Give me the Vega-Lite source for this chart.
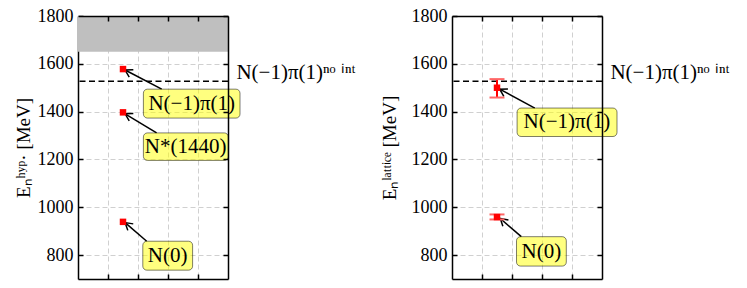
{
  "$schema": "https://vega.github.io/schema/vega-lite/v6.json",
  "padding": {"left": 14, "top": 7, "right": 5, "bottom": 5},
  "background": "white",
  "config": {
    "view": {"stroke": null},
    "font": "Liberation Serif, Times New Roman, serif",
    "text": {"font": "Liberation Serif, Times New Roman, serif"},
    "axis": {
      "domainColor": "black", "domainWidth": 1.5,
      "tickColor": "black", "tickWidth": 1.5, "tickSize": -5,
      "labelFont": "Liberation Serif, Times New Roman, serif", "labelFontSize": 18, "labelColor": "black", "format": "d",
      "titleFont": "Liberation Serif, Times New Roman, serif", "titleFontSize": 19, "titleFontWeight": "normal", "titleColor": "black",
      "gridColor": "#d0d0d0", "gridDash": [5, 3], "gridWidth": 1
    }
  },
  "datasets": {
    "band": [{"x1": 0, "x2": 5, "y1": 1650, "y2": 1800}],
    "thr": [{"E": 1527, "lx": 5.28, "label": "N(−1)π(1)ⁿᵒ ⁱⁿᵗ"}],
    "hyp": [
      {"state": "N(0)", "x": 1.5, "E": 939},
      {"state": "N*(1440)", "x": 1.5, "E": 1397},
      {"state": "N(−1)π(1)", "x": 1.5, "E": 1578}
    ],
    "lat": [
      {"state": "N(0)", "x": 1.5, "E": 959, "lo": 949, "hi": 970},
      {"state": "N(−1)π(1)", "x": 1.5, "E": 1500, "lo": 1459, "hi": 1536}
    ],
    "annHyp": [
      {"label": "N(−1)π(1)", "bx1": 2.18, "bx2": 5.4, "by1": 1373, "by2": 1494, "tx": 3.79, "ty": 1434, "ax": 2.79, "ay": 1494, "hx": 1.57, "hy": 1574},
      {"label": "N*(1440)", "bx1": 2.18, "bx2": 5.01, "by1": 1196, "by2": 1311, "tx": 3.59, "ty": 1253, "ax": 2.62, "ay": 1311, "hx": 1.57, "hy": 1391},
      {"label": "N(0)", "bx1": 2.16, "bx2": 3.82, "by1": 737, "by2": 858, "tx": 2.99, "ty": 798, "ax": 2.29, "ay": 858, "hx": 1.57, "hy": 936}
    ],
    "annLat": [
      {"label": "N(−1)π(1)", "bx1": 2.17, "bx2": 5.5, "by1": 1296, "by2": 1415, "tx": 3.83, "ty": 1356, "ax": 2.76, "ay": 1415, "hx": 1.59, "hy": 1494},
      {"label": "N(0)", "bx1": 2.15, "bx2": 3.81, "by1": 754, "by2": 877, "tx": 2.98, "ty": 815, "ax": 2.31, "ay": 877, "hx": 1.61, "hy": 953}
    ]
  },
  "spacing": 224,
  "bounds": "flush",
  "hconcat": [
    {
      "width": 150, "height": 263,
      "resolve": {"axis": {"x": "independent", "y": "independent"}},
      "layer": [
        {
          "data": {"name": "band"},
          "mark": {"type": "rect", "color": "#bfbfbf"},
          "encoding": {
            "x": {"field": "x1", "type": "quantitative", "scale": {"domain": [0, 5], "nice": false, "zero": false}, "axis": null},
            "x2": {"field": "x2"},
            "y": {"field": "y1", "type": "quantitative", "scale": {"domain": [700, 1800], "nice": false, "zero": false}, "axis": null},
            "y2": {"field": "y2"}
          }
        },
        {
          "data": {"name": "thr"},
          "mark": {"type": "rule", "color": "black", "strokeWidth": 1.5, "strokeDash": [6, 3.5]},
          "encoding": {
            "y": {"field": "E", "type": "quantitative", "scale": {"domain": [700, 1800], "nice": false, "zero": false}, "axis": null}
          }
        },
        {
          "data": {"name": "thr"},
          "mark": {"type": "text", "align": "left", "baseline": "alphabetic", "dy": -2, "fontSize": 21, "color": "black"},
          "encoding": {
            "x": {"field": "lx", "type": "quantitative", "scale": {"domain": [0, 5], "nice": false, "zero": false}, "axis": null},
            "y": {"field": "E", "type": "quantitative", "scale": {"domain": [700, 1800], "nice": false, "zero": false}, "axis": null},
            "text": {"field": "label"}
          }
        },
        {
          "data": {"name": "annHyp"},
          "mark": {"type": "rule", "color": "black", "strokeWidth": 1.5},
          "encoding": {
            "x": {"field": "ax", "type": "quantitative", "scale": {"domain": [0, 5], "nice": false, "zero": false}, "axis": null},
            "x2": {"field": "hx"},
            "y": {"field": "ay", "type": "quantitative", "scale": {"domain": [700, 1800], "nice": false, "zero": false}, "axis": null},
            "y2": {"field": "hy"}
          }
        },
        {
          "data": {"name": "annHyp"},
          "transform": [{"filter": "datum.label != 'N(0)'"}],
          "mark": {"type": "point", "shape": "M -1 -0.6 L 0 0 L -1 0.6", "filled": false, "stroke": "black", "strokeWidth": 1.5, "size": 200, "angle": 209, "opacity": 1},
          "encoding": {
            "x": {"field": "hx", "type": "quantitative", "scale": {"domain": [0, 5], "nice": false, "zero": false}, "axis": null},
            "y": {"field": "hy", "type": "quantitative", "scale": {"domain": [700, 1800], "nice": false, "zero": false}, "axis": null}
          }
        },
        {
          "data": {"name": "annHyp"},
          "transform": [{"filter": "datum.label == 'N(0)'"}],
          "mark": {"type": "point", "shape": "M -1 -0.6 L 0 0 L -1 0.6", "filled": false, "stroke": "black", "strokeWidth": 1.5, "size": 200, "angle": 220, "opacity": 1},
          "encoding": {
            "x": {"field": "hx", "type": "quantitative", "scale": {"domain": [0, 5], "nice": false, "zero": false}, "axis": null},
            "y": {"field": "hy", "type": "quantitative", "scale": {"domain": [700, 1800], "nice": false, "zero": false}, "axis": null}
          }
        },
        {
          "data": {"name": "annHyp"},
          "mark": {"type": "rect", "fill": "yellow", "fillOpacity": 0.5, "stroke": "black", "strokeOpacity": 0.5, "strokeWidth": 1, "cornerRadius": 4},
          "encoding": {
            "x": {"field": "bx1", "type": "quantitative", "scale": {"domain": [0, 5], "nice": false, "zero": false},
                  "axis": {"orient": "top", "values": [1, 2, 3, 4], "labels": false, "grid": false, "title": null, "zindex": 1}},
            "x2": {"field": "bx2"},
            "y": {"field": "by1", "type": "quantitative", "scale": {"domain": [700, 1800], "nice": false, "zero": false},
                  "axis": {"orient": "right", "values": [800, 1000, 1200, 1400, 1600, 1800], "labels": false, "grid": false, "title": null, "zindex": 1}},
            "y2": {"field": "by2"}
          }
        },
        {
          "data": {"name": "annHyp"},
          "mark": {"type": "text", "align": "center", "baseline": "middle", "fontSize": 21, "color": "black"},
          "encoding": {
            "x": {"field": "tx", "type": "quantitative", "scale": {"domain": [0, 5], "nice": false, "zero": false}, "axis": null},
            "y": {"field": "ty", "type": "quantitative", "scale": {"domain": [700, 1800], "nice": false, "zero": false}, "axis": null},
            "text": {"field": "label"}
          }
        },
        {
          "data": {"name": "hyp"},
          "mark": {"type": "point", "shape": "square", "filled": true, "color": "red", "size": 42, "opacity": 1},
          "encoding": {
            "x": {"field": "x", "type": "quantitative", "scale": {"domain": [0, 5], "nice": false, "zero": false},
                  "axis": {"orient": "bottom", "values": [1, 2, 3, 4], "labels": false, "grid": true, "title": null, "zindex": 0}},
            "y": {"field": "E", "type": "quantitative", "scale": {"domain": [700, 1800], "nice": false, "zero": false},
                  "axis": {"orient": "left", "values": [800, 1000, 1200, 1400, 1600, 1800], "grid": true, "labelPadding": 10, "titlePadding": 4, "title": "Eₙʰʸᵖ· [MeV]", "zindex": 0}}
          }
        }
      ]
    },
    {
      "width": 150, "height": 263,
      "resolve": {"axis": {"x": "independent", "y": "independent"}},
      "layer": [
        {
          "data": {"name": "thr"},
          "mark": {"type": "rule", "color": "black", "strokeWidth": 1.5, "strokeDash": [6, 3.5]},
          "encoding": {
            "y": {"field": "E", "type": "quantitative", "scale": {"domain": [700, 1800], "nice": false, "zero": false}, "axis": null}
          }
        },
        {
          "data": {"name": "thr"},
          "mark": {"type": "text", "align": "left", "baseline": "alphabetic", "dy": -2, "fontSize": 21, "color": "black"},
          "encoding": {
            "x": {"field": "lx", "type": "quantitative", "scale": {"domain": [0, 5], "nice": false, "zero": false}, "axis": null},
            "y": {"field": "E", "type": "quantitative", "scale": {"domain": [700, 1800], "nice": false, "zero": false}, "axis": null},
            "text": {"field": "label"}
          }
        },
        {
          "data": {"name": "annLat"},
          "mark": {"type": "rule", "color": "black", "strokeWidth": 1.5},
          "encoding": {
            "x": {"field": "ax", "type": "quantitative", "scale": {"domain": [0, 5], "nice": false, "zero": false}, "axis": null},
            "x2": {"field": "hx"},
            "y": {"field": "ay", "type": "quantitative", "scale": {"domain": [700, 1800], "nice": false, "zero": false}, "axis": null},
            "y2": {"field": "hy"}
          }
        },
        {
          "data": {"name": "annLat"},
          "transform": [{"filter": "datum.label != 'N(0)'"}],
          "mark": {"type": "point", "shape": "M -1 -0.6 L 0 0 L -1 0.6", "filled": false, "stroke": "black", "strokeWidth": 1.5, "size": 200, "angle": 209, "opacity": 1},
          "encoding": {
            "x": {"field": "hx", "type": "quantitative", "scale": {"domain": [0, 5], "nice": false, "zero": false}, "axis": null},
            "y": {"field": "hy", "type": "quantitative", "scale": {"domain": [700, 1800], "nice": false, "zero": false}, "axis": null}
          }
        },
        {
          "data": {"name": "annLat"},
          "transform": [{"filter": "datum.label == 'N(0)'"}],
          "mark": {"type": "point", "shape": "M -1 -0.6 L 0 0 L -1 0.6", "filled": false, "stroke": "black", "strokeWidth": 1.5, "size": 200, "angle": 221, "opacity": 1},
          "encoding": {
            "x": {"field": "hx", "type": "quantitative", "scale": {"domain": [0, 5], "nice": false, "zero": false}, "axis": null},
            "y": {"field": "hy", "type": "quantitative", "scale": {"domain": [700, 1800], "nice": false, "zero": false}, "axis": null}
          }
        },
        {
          "data": {"name": "annLat"},
          "mark": {"type": "rect", "fill": "yellow", "fillOpacity": 0.5, "stroke": "black", "strokeOpacity": 0.5, "strokeWidth": 1, "cornerRadius": 4},
          "encoding": {
            "x": {"field": "bx1", "type": "quantitative", "scale": {"domain": [0, 5], "nice": false, "zero": false},
                  "axis": {"orient": "top", "values": [1, 2, 3, 4], "labels": false, "grid": false, "title": null, "zindex": 1}},
            "x2": {"field": "bx2"},
            "y": {"field": "by1", "type": "quantitative", "scale": {"domain": [700, 1800], "nice": false, "zero": false},
                  "axis": {"orient": "right", "values": [800, 1000, 1200, 1400, 1600, 1800], "labels": false, "grid": false, "title": null, "zindex": 1}},
            "y2": {"field": "by2"}
          }
        },
        {
          "data": {"name": "annLat"},
          "mark": {"type": "text", "align": "center", "baseline": "middle", "fontSize": 21, "color": "black"},
          "encoding": {
            "x": {"field": "tx", "type": "quantitative", "scale": {"domain": [0, 5], "nice": false, "zero": false}, "axis": null},
            "y": {"field": "ty", "type": "quantitative", "scale": {"domain": [700, 1800], "nice": false, "zero": false}, "axis": null},
            "text": {"field": "label"}
          }
        },
        {
          "data": {"name": "lat"},
          "mark": {"type": "rule", "color": "red", "strokeWidth": 2},
          "encoding": {
            "x": {"field": "x", "type": "quantitative", "scale": {"domain": [0, 5], "nice": false, "zero": false}, "axis": null},
            "y": {"field": "lo", "type": "quantitative", "scale": {"domain": [700, 1800], "nice": false, "zero": false}, "axis": null},
            "y2": {"field": "hi"}
          }
        },
        {
          "data": {"name": "lat"},
          "mark": {"type": "tick", "orient": "horizontal", "color": "#ff6666", "thickness": 2, "size": 15, "opacity": 1},
          "encoding": {
            "x": {"field": "x", "type": "quantitative", "scale": {"domain": [0, 5], "nice": false, "zero": false}, "axis": null},
            "y": {"field": "lo", "type": "quantitative", "scale": {"domain": [700, 1800], "nice": false, "zero": false}, "axis": null}
          }
        },
        {
          "data": {"name": "lat"},
          "mark": {"type": "tick", "orient": "horizontal", "color": "#ff6666", "thickness": 2, "size": 15, "opacity": 1},
          "encoding": {
            "x": {"field": "x", "type": "quantitative", "scale": {"domain": [0, 5], "nice": false, "zero": false}, "axis": null},
            "y": {"field": "hi", "type": "quantitative", "scale": {"domain": [700, 1800], "nice": false, "zero": false}, "axis": null}
          }
        },
        {
          "data": {"name": "lat"},
          "mark": {"type": "point", "shape": "square", "filled": true, "color": "red", "size": 42, "opacity": 1},
          "encoding": {
            "x": {"field": "x", "type": "quantitative", "scale": {"domain": [0, 5], "nice": false, "zero": false},
                  "axis": {"orient": "bottom", "values": [1, 2, 3, 4], "labels": false, "grid": true, "title": null, "zindex": 0}},
            "y": {"field": "E", "type": "quantitative", "scale": {"domain": [700, 1800], "nice": false, "zero": false},
                  "axis": {"orient": "left", "values": [800, 1000, 1200, 1400, 1600, 1800], "grid": true, "labelPadding": 10, "titlePadding": 12, "title": "Eₙˡᵃᵗᵗⁱᶜᵉ [MeV]", "zindex": 0}}
          }
        }
      ]
    }
  ]
}
